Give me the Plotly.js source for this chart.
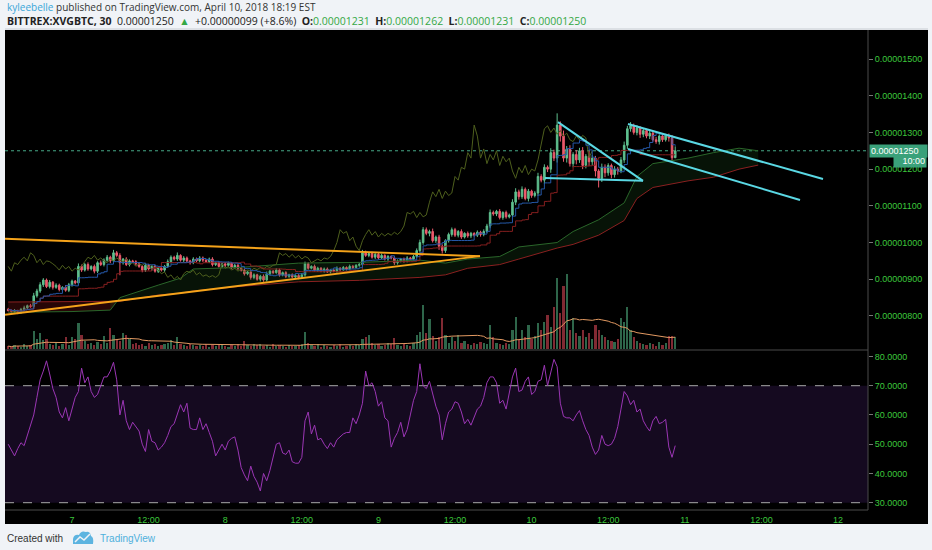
<!DOCTYPE html>
<html><head><meta charset="utf-8">
<script src="https://cdn.plot.ly/plotly-3.0.1.min.js"></script>
<style>html,body{margin:0;padding:0;background:#f0f3f7;}#chart{width:932px;height:550px;}</style>
</head><body><div id="chart"></div>
<script>
// ---------- data ----------
const firstOpen = 818;
const closes = [815,812,814,810,818,822,828,826,855,868,
885,898,880,892,878,884,872,878,870,885,
895,890,935,925,940,928,935,922,945,940,
952,960,950,972,965,945,955,940,950,948,
942,935,925,938,928,935,922,930,925,935,
948,960,955,965,952,958,950,945,955,950,
958,952,948,955,940,945,935,942,938,944,
932,938,930,925,915,920,905,912,900,908,
898,915,922,918,925,912,918,908,912,906,
910,905,912,942,930,935,925,930,922,928,
920,925,922,930,926,932,928,935,932,938,
940,972,965,970,960,968,958,965,955,962,
958,945,950,955,950,958,955,962,978,1000,
1035,1025,1030,1005,1015,990,978,1005,1022,1035,
1020,1030,1015,1025,1018,1025,1020,1028,1022,1030,
1045,1082,1078,1085,1068,1082,1070,1075,1110,1138,
1125,1145,1120,1140,1128,1135,1180,1170,1205,1200,
1245,1230,1320,1290,1230,1255,1215,1240,1225,1250,
1210,1235,1220,1230,1195,1175,1205,1190,1210,1185,
1200,1195,1225,1265,1310,1318,1300,1312,1295,1305,
1290,1298,1280,1275,1290,1280,1292,1285,1231,1250];
const wickUp = [4,3,5,3,4,6,3,5,8,6, 7,5,4,6,3,5,4,3,6,5, 4,3,8,5,4,6,3,5,4,6,
5,6,4,8,5,6,3,5,4,3, 4,5,3,6,4,3,5,4,3,4, 6,5,4,8,3,5,4,3,5,4,
5,4,3,4,5,3,4,3,5,4, 3,4,5,3,4,3,5,4,3,4, 5,6,4,3,5,4,3,4,3,4,
3,4,5,6,4,3,5,4,3,4, 4,3,4,5,3,4,3,5,4,3, 5,8,6,4,5,3,4,5,3,4,
3,5,4,3,4,5,3,4,6,8, 7,6,5,8,4,6,5,4,5,6, 5,4,6,3,5,4,3,5,4,6,
6,8,5,4,6,3,5,4,8,10, 6,8,5,6,4,5,10,6,8,5, 12,8,32,10,15,8,10,6,12,8,
10,6,15,8,6,5,10,8,6,5, 8,6,8,10,8,10,6,8,5,6, 5,6,4,8,5,6,4,5,8,12];
const wickDn = [3,4,3,5,4,3,5,4,6,5, 5,6,4,5,6,4,5,6,4,5, 5,4,6,5,4,5,4,6,5,4,
5,4,6,5,4,34,5,4,5,4, 5,4,6,5,4,5,4,5,4,5, 4,5,4,5,4,5,4,5,4,3,
4,5,3,4,5,4,3,4,5,4, 4,3,5,4,5,4,6,5,4,6, 5,4,5,4,3,5,4,5,4,3,
4,5,3,5,4,3,4,5,3,4, 3,4,3,4,5,3,4,3,4,3, 4,5,4,5,4,5,4,3,4,5,
4,6,5,4,5,4,3,5,4,5, 6,5,8,5,6,10,8,6,5,6, 5,6,5,4,5,6,4,5,6,5,
4,6,5,6,5,6,5,4,6,8, 8,6,5,8,6,5,8,6,10,8, 10,8,12,15,10,12,8,10,12,8,
10,8,12,10,15,25,10,12,8,10, 8,10,6,8,10,8,6,8,10,8, 6,8,5,6,8,6,5,10,8,0];
const volumes = [3,2,4,3,2,5,3,4,19,10, 17,9,10,5,4,6,3,5,12,4, 12,10,27,15,8,5,6,4,7,5,
13,6,22,15,9,8,17,15,10,5, 6,4,5,3,6,4,5,3,4,5, 6,9,4,12,5,4,3,5,4,3,
4,3,5,2,4,3,5,4,3,2, 4,3,5,3,8,4,3,5,4,5, 3,4,2,5,3,4,3,2,4,3,
3,4,5,18,6,4,3,5,2,4, 3,2,4,3,5,2,3,4,3,5, 4,10,12,14,6,4,5,3,4,6,
5,11,4,3,5,4,3,6,15,18, 46,17,31,13,8,12,32,15,6,12, 8,15,6,8,5,4,6,5,7,6,
5,25,12,6,5,4,6,5,20,33, 10,20,12,25,10,13,27,20,28,35, 23,43,73,37,65,78,20,32,17,13,
20,12,17,10,25,20,15,12,9,8, 7,10,32,28,43,20,12,8,6,5, 4,6,5,3,7,4,6,13,13,12];
const rsiValues = [50,48,46,48.5,50.5,49.5,53,56,60,66,
72,75,78.5,74,69,66,61,59,62.5,58,
62,66,68,76,71,73,68,66,67,70,
73,73,75,78,72,60,65,58,55,57.5,
56,54.5,50,47.5,55,51,50.5,48,49,50.5,
53,56,57,60,63.5,61,64,55.5,55,55,
59,55,57,54,51,46,48,50,48,51,
52,52.5,48,42,39.5,37.5,42.5,39,37,34,
40,37.5,41,46,50,50.5,47,46.5,48,44,
43.5,43.5,45.5,58,61,53.5,56.5,51.5,52,50,
48.5,50.5,49,51.5,52.5,53.5,54,54,59,57,
60,64,75,70,71,68,63,64.5,59,58,
49,52,54,57.5,52.5,55,60,65,68,77.5,
70,69,71.5,67.5,63,60,51.5,57,61,62,
64.5,64,61,57,58.5,56.5,59,62,63,66,
71,73,73,71,64,65,62,67,73,76,
68,68.5,71.5,73,67,68,71.5,72,77,70,
75,79,76.5,64,59.5,59,59,58,60,61.5,
58,55,53,49,46.5,48,53,50,49.5,50,
52,56,62,68,66.5,63.5,65,61,62,58,
56,54.5,58,59.5,57,57.5,58.5,49,45.5,49.5];
// Ichimoku cloud spans (candle offset -> price)
const spanIdx = [0,20,32,35,47,54,58,72,91,110,129,137,144,154,160,172,177,185,193,197,202,213,221,229,235];
const spanA = [810,812,816,850,884,903,928,932,944,946,952,944,955,962,988,1000,1030,1062,1108,1180,1215,1230,1245,1257,1250];
const spanB = [838,838,838,840,857,862,868,880,893,897,905,912,930,940,955,985,995,1020,1060,1120,1150,1168,1178,1200,1211];
// drawings (time, price)
const triUpperT = ['2018-04-06 13:30','2018-04-09 15:55'], triUpperP = [1010,963];
const triLowerT = ['2018-04-06 13:30','2018-04-09 15:55'], triLowerP = [803,963];
const pennTopT = ['2018-04-10 04:08','2018-04-10 17:27'], pennTopP = [1328,1168];
const pennBotT = ['2018-04-10 02:05','2018-04-10 17:27'], pennBotP = [1176,1168];
const chanTopT = ['2018-04-10 15:06','2018-04-11 21:39'], chanTopP = [1323,1173];
const chanBotT = ['2018-04-10 15:06','2018-04-11 18:03'], chanBotP = [1255,1116];
const lastPrice = 1250;
const priceTicks = [800,900,1000,1100,1200,1300,1400,1500];
const priceTickText = ['0.00000800','0.00000900','0.00001000','0.00001100','0.00001200','0.00001300','0.00001400','0.00001500'];
const rsiTicks = [30,40,50,60,70,80];
const rsiTickText = ['30.0000','40.0000','50.0000','60.0000','70.0000','80.0000'];
const timeTicks = ['2018-04-07 00:00','2018-04-07 12:00','2018-04-08 00:00','2018-04-08 12:00','2018-04-09 00:00','2018-04-09 12:00','2018-04-10 00:00','2018-04-10 12:00','2018-04-11 00:00','2018-04-11 12:00','2018-04-12 00:00'];
const timeTickText = ['7','12:00','8','12:00','9','12:00','10','12:00','11','12:00','12'];
const headerUser = 'kyleebelle';
const headerInfo = ' published on TradingView.com, April 10, 2018 18:19 EST';
const symbolText = 'BITTREX:XVGBTC, 30';
const lastText = '0.00001250', changeText = '+0.00000099 (+8.6%)';
const ohlcLabels = ['O:','H:','L:','C:'];
const ohlcValues = ['0.00001231','0.00001262','0.00001231','0.00001250'];

// ---------- derived ----------
const t0 = Date.UTC(2018,3,6,14,0);
function tAt(i){return new Date(t0 + i*1800000).toISOString().slice(0,16).replace('T',' ');}
const N = closes.length;
const times = closes.map((_,i)=>tAt(i));
const opens = closes.map((c,i)=> i===0 ? firstOpen : closes[i-1]);
const highs = closes.map((c,i)=> Math.max(c,opens[i]) + wickUp[i]);
const lows = closes.map((c,i)=> Math.min(c,opens[i]) - wickDn[i]);
function mid(i,p){let h=-1e9,l=1e9;for(let k=Math.max(0,i-p+1);k<=i;k++){h=Math.max(h,highs[k]);l=Math.min(l,lows[k]);}return (h+l)/2;}
const tenkan = closes.map((_,i)=>mid(i,9));
const kijun = closes.map((_,i)=>mid(i,26));
const lagX = [], lagY = [];
for(let i=26;i<N;i++){lagX.push(times[i-26]);lagY.push(closes[i]);}
const volMA = volumes.map((_,i)=>{const s=Math.max(0,i-19);let a=0;for(let k=s;k<=i;k++)a+=volumes[k];return a/(i-s+1);});
const volColors = closes.map((c,i)=> c>=opens[i] ? 'rgba(83,185,135,0.55)' : 'rgba(235,77,92,0.55)');
const spanT = spanIdx.map(tAt);
const redSeg = [0,1,2,3], greenSeg = spanIdx.map((_,k)=>k).filter(k=>k>=2);

// ---------- traces ----------
const traces = [];
traces.push({x:redSeg.map(k=>spanT[k]),y:redSeg.map(k=>spanB[k]),mode:'lines',line:{width:0},hoverinfo:'skip'});
traces.push({x:redSeg.map(k=>spanT[k]),y:redSeg.map(k=>spanA[k]),mode:'lines',line:{width:0},fill:'tonexty',fillcolor:'rgba(130,20,20,0.30)',hoverinfo:'skip'});
traces.push({x:greenSeg.map(k=>spanT[k]),y:greenSeg.map(k=>spanB[k]),mode:'lines',line:{width:0},hoverinfo:'skip'});
traces.push({x:greenSeg.map(k=>spanT[k]),y:greenSeg.map(k=>spanA[k]),mode:'lines',line:{width:0},fill:'tonexty',fillcolor:'rgba(40,110,40,0.17)',hoverinfo:'skip'});
traces.push({x:spanT,y:spanA,mode:'lines',line:{color:'#2a662a',width:1},hoverinfo:'skip'});
traces.push({x:spanT,y:spanB,mode:'lines',line:{color:'#8a2020',width:1},hoverinfo:'skip'});
traces.push({x:lagX,y:lagY,mode:'lines',line:{color:'#4e5f1d',width:1},hoverinfo:'skip'});
traces.push({x:times,y:kijun,mode:'lines',line:{color:'#861f1f',width:1,shape:'hv'},hoverinfo:'skip'});
traces.push({x:times,y:tenkan,mode:'lines',line:{color:'#2558a8',width:1,shape:'hv'},hoverinfo:'skip'});
traces.push({type:'candlestick',x:times,open:opens,high:highs,low:lows,close:closes,
  increasing:{line:{color:'#5fc08f',width:1},fillcolor:'#5fc08f'},
  decreasing:{line:{color:'#ec5a6c',width:1},fillcolor:'#ec5a6c'},
  whiskerwidth:0,hoverinfo:'skip'});
traces.push({type:'bar',x:times,y:volumes,yaxis:'y3',marker:{color:volColors,line:{width:0}},width:1800000*0.7,hoverinfo:'skip'});
traces.push({x:times,y:volMA,yaxis:'y3',mode:'lines',line:{color:'#e39a62',width:1},hoverinfo:'skip'});
traces.push({x:times,y:rsiValues,yaxis:'y2',mode:'lines',line:{color:'#9b36b5',width:1},hoverinfo:'skip'});

// ---------- layout ----------
const PX = px => (px-5)/863, PY = py => (510-py)/480;
const tickFont = {color:'#3cc83c',size:9,family:'Liberation Sans, Arial, sans-serif'};
function seg(t,p,color){return {type:'line',xref:'x',yref:'y',x0:t[0],x1:t[1],y0:p[0],y1:p[1],line:{color:color,width:2},layer:'above'};}
const shapes = [
 {type:'rect',xref:'paper',yref:'paper',x0:PX(5),x1:PX(928),y0:PY(524),y1:PY(30),fillcolor:'#000',line:{width:0},layer:'below'},
 {type:'line',xref:'paper',yref:'paper',x0:PX(5),x1:PX(928),y0:PY(29),y1:PY(29),line:{color:'#c8ccd2',width:1},layer:'below'},
 {type:'rect',xref:'paper',yref:'y2',x0:0,x1:1,y0:30,y1:70,fillcolor:'#150a20',line:{width:0},layer:'below'},
 {type:'line',xref:'paper',yref:'y2',x0:0,x1:1,y0:70,y1:70,line:{color:'#a8a8a8',width:1,dash:'dash'},layer:'below'},
 {type:'line',xref:'paper',yref:'y2',x0:0,x1:1,y0:30,y1:30,line:{color:'#a8a8a8',width:1,dash:'dash'},layer:'below'},
 {type:'line',xref:'paper',yref:'y',x0:0,x1:1,y0:lastPrice,y1:lastPrice,line:{color:'#46a887',width:1,dash:'dot'},layer:'below'},
 {type:'line',xref:'paper',yref:'paper',x0:0,x1:1,y0:PY(350),y1:PY(350),line:{color:'#4a4a4a',width:1},layer:'above'},
 {type:'line',xref:'paper',yref:'paper',x0:1,x1:1,y0:0,y1:1,line:{color:'#4a4a4a',width:1},layer:'above'},
 {type:'line',xref:'paper',yref:'paper',x0:0,x1:1,y0:0,y1:0,line:{color:'#4a4a4a',width:1},layer:'above'},
 seg(triUpperT,triUpperP,'#f5a31a'), seg(triLowerT,triLowerP,'#f5a31a'),
 seg(pennTopT,pennTopP,'#5ad8e4'), seg(pennBotT,pennBotP,'#5ad8e4'),
 seg(chanTopT,chanTopP,'#5ad8e4'), seg(chanBotT,chanBotP,'#5ad8e4'),
 {type:'path',xref:'paper',yref:'paper',
  path:`M${PX(73)},${PY(544)} L${PX(73)},${PY(539)} Q${PX(74)},${PY(534)} ${PX(79)},${PY(535)} Q${PX(81)},${PY(530)} ${PX(86)},${PY(532)} Q${PX(90)},${PY(531)} ${PX(91)},${PY(536)} Q${PX(94)},${PY(537)} ${PX(93)},${PY(544)} Z`,
  fillcolor:'#5db4e0',line:{width:0},layer:'above'},
 {type:'path',xref:'paper',yref:'paper',
  path:`M${PX(75)},${PY(542)} L${PX(80)},${PY(537)} L${PX(84)},${PY(540)} L${PX(90)},${PY(534)}`,
  line:{color:'#f0f3f7',width:1.5},layer:'above'}
];
const g = s => `<span style="color:#35a845">${s}</span>`;
const sp = '\u00a0\u00a0';
let line2 = `<b>${symbolText}</b>${sp}${lastText}${sp}${g('▲')}${sp}${changeText}`;
ohlcLabels.forEach((l,k)=>{ line2 += `${sp}<b>${l}</b>${g(ohlcValues[k])}`; });
const annotations = [
 {xref:'paper',yref:'paper',x:PX(5),y:PY(7),xanchor:'left',yanchor:'middle',showarrow:false,
  text:`<span style="color:#3aa6d8">${headerUser}</span>${headerInfo}`,font:{size:10,color:'#333',family:'Open Sans, sans-serif'}},
 {xref:'paper',yref:'paper',x:PX(5),y:PY(21.5),xanchor:'left',yanchor:'middle',showarrow:false,
  text:line2,font:{size:10.5,color:'#222',family:'Open Sans, sans-serif'}},
 {xref:'paper',yref:'y',x:PX(869),y:lastPrice,xanchor:'left',yanchor:'middle',showarrow:false,
  text:lastText,bgcolor:'#3aa17a',font:{size:9,color:'#fff',family:'Liberation Sans, Arial, sans-serif'},width:55,align:'left',borderpad:1},
 {xref:'paper',yref:'y',x:PX(927),y:1222,xanchor:'right',yanchor:'middle',showarrow:false,
  text:'10:00',bgcolor:'#3aa17a',font:{size:9,color:'#fff',family:'Liberation Sans, Arial, sans-serif'},width:30,align:'right',borderpad:1},
 {xref:'paper',yref:'paper',x:PX(5),y:PY(538),xanchor:'left',yanchor:'middle',showarrow:false,
  text:'Created with',font:{size:10,color:'#333',family:'Liberation Sans, Arial, sans-serif'}},
 {xref:'paper',yref:'paper',x:PX(98),y:PY(538),xanchor:'left',yanchor:'middle',showarrow:false,
  text:'TradingView',font:{size:10,color:'#4fb0dc',family:'Liberation Sans, Arial, sans-serif'}}
];
const layout = {
 width:932,height:550,margin:{l:5,r:64,t:30,b:40},
 paper_bgcolor:'#f0f3f7',plot_bgcolor:'rgba(0,0,0,0)',showlegend:false,bargap:0,
 xaxis:{type:'date',range:['2018-04-06 13:30','2018-04-12 04:42'],rangeslider:{visible:false},anchor:'y2',
   tickmode:'array',tickvals:timeTicks,ticktext:timeTickText,tickfont:tickFont,showgrid:false,zeroline:false,
   ticks:'outside',ticklen:1,tickcolor:'rgba(0,0,0,0)',showline:false,fixedrange:true},
 yaxis:{domain:[PY(349),1],range:[710,1579],side:'right',tickmode:'array',tickvals:priceTicks,ticktext:priceTickText,
   tickfont:tickFont,ticks:'outside',ticklen:4,tickcolor:'#777',showgrid:false,zeroline:false,showline:false},
 yaxis2:{domain:[0,PY(350)],range:[27.5,82.2],side:'right',tickmode:'array',tickvals:rsiTicks,ticktext:rsiTickText,
   tickfont:tickFont,ticks:'outside',ticklen:4,tickcolor:'#777',showgrid:false,zeroline:false,showline:false},
 yaxis3:{overlaying:'y',range:[0,330],visible:false},
 shapes:shapes,annotations:annotations
};
Plotly.newPlot('chart',traces,layout,{displayModeBar:false,staticPlot:true});
</script></body></html>
